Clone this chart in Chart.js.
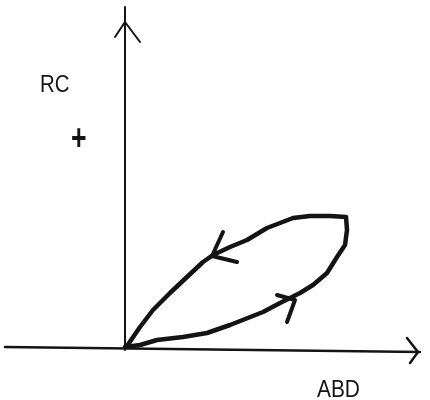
<!DOCTYPE html>
<html>
<head>
<meta charset="utf-8">
<script src="https://cdn.jsdelivr.net/npm/chart.js@4"></script>
<style>
  html, body { margin: 0; padding: 0; background: #fff; }
  #wrap { width: 430px; height: 400px; }
</style>
</head>
<body>
<div id="wrap"><canvas id="loopChart" width="430" height="400"></canvas></div>
<script>
// Vòng lặp RC theo ABD (đơn vị tuỳ ý)
const loopABD = [0, 15, 32, 58, 82, 105, 138, 155, 175, 188, 202, 212, 220, 222, 221,
                 205, 185, 168, 155, 142, 122, 105, 88, 78, 62, 45, 28, 15, 2];
const loopRC  = [1, 3, 8, 11, 15, 23, 36, 45, 55, 63, 75, 91, 103, 118, 131,
                 132, 132, 130, 125, 120, 108, 101, 93, 86, 71, 55, 38, 21, 2];

// mũi tên chỉ chiều trên vòng lặp
const upArrowABD = [98, 87, 112];
const upArrowRC  = [116, 92, 86];
const lowArrowABD = [152, 170, 162];
const lowArrowRC  = [53, 48, 26];

// trục
const rcAxisABD = [0, 0];
const rcAxisRC  = [341, -2];
const rcHeadABD = [-10, 0, 15];
const rcHeadRC  = [311, 326, 306];
const abdAxisABD = [-120, 295];
const abdAxisRC  = [1, -4];
const abdHeadABD = [282, 293, 285];
const abdHeadRC  = [10, -4, -15];

const ink = '#141414';

function pts(xs, ys) {
    return xs.map((x, i) => ({ x: x, y: ys[i] }));
}

function lineSet(xs, ys, width) {
    return {
        data: pts(xs, ys),
        showLine: true,
        borderColor: ink,
        borderWidth: width,
        pointRadius: 0,
        tension: 0,
        borderJoinStyle: 'round',
        borderCapStyle: 'round'
    };
}

// Vẽ nhãn chữ (chữ hơi hẹp như bản gốc)
function narrowText(ctx, text, x, y, sx, sy) {
    ctx.save();
    ctx.translate(x, y);
    ctx.scale(sx, sy);
    ctx.fillText(text, 0, 0);
    ctx.restore();
}

const labelPlugin = {
    id: 'labels',
    afterDraw(chart) {
        const ctx = chart.ctx;
        ctx.save();
        ctx.fillStyle = ink;
        ctx.textBaseline = 'alphabetic';
        ctx.font = '24px "Liberation Sans", Arial, sans-serif';
        narrowText(ctx, 'RC', 40, 92, 0.85, 1);
        narrowText(ctx, 'ABD', 317, 397, 0.87, 1);
        ctx.font = 'bold 28px "Liberation Sans", Arial, sans-serif';
        narrowText(ctx, '+', 71, 150, 0.95, 1.3);
        ctx.restore();
    }
};

new Chart(document.getElementById('loopChart'), {
    type: 'scatter',
    data: {
        datasets: [
            lineSet(rcAxisABD, rcAxisRC, 2),
            lineSet(rcHeadABD, rcHeadRC, 2),
            lineSet(abdAxisABD, abdAxisRC, 2.5),
            lineSet(abdHeadABD, abdHeadRC, 2.5),
            lineSet(loopABD, loopRC, 4.5),
            lineSet(upArrowABD, upArrowRC, 4),
            lineSet(lowArrowABD, lowArrowRC, 4)
        ]
    },
    options: {
        responsive: false,
        animation: false,
        layout: { padding: 0 },
        plugins: { legend: { display: false }, tooltip: { enabled: false } },
        scales: {
            x: { type: 'linear', display: false, min: -125, max: 305 },
            y: { type: 'linear', display: false, min: -52, max: 348 }
        }
    },
    plugins: [labelPlugin]
});
</script>
</body>
</html>
